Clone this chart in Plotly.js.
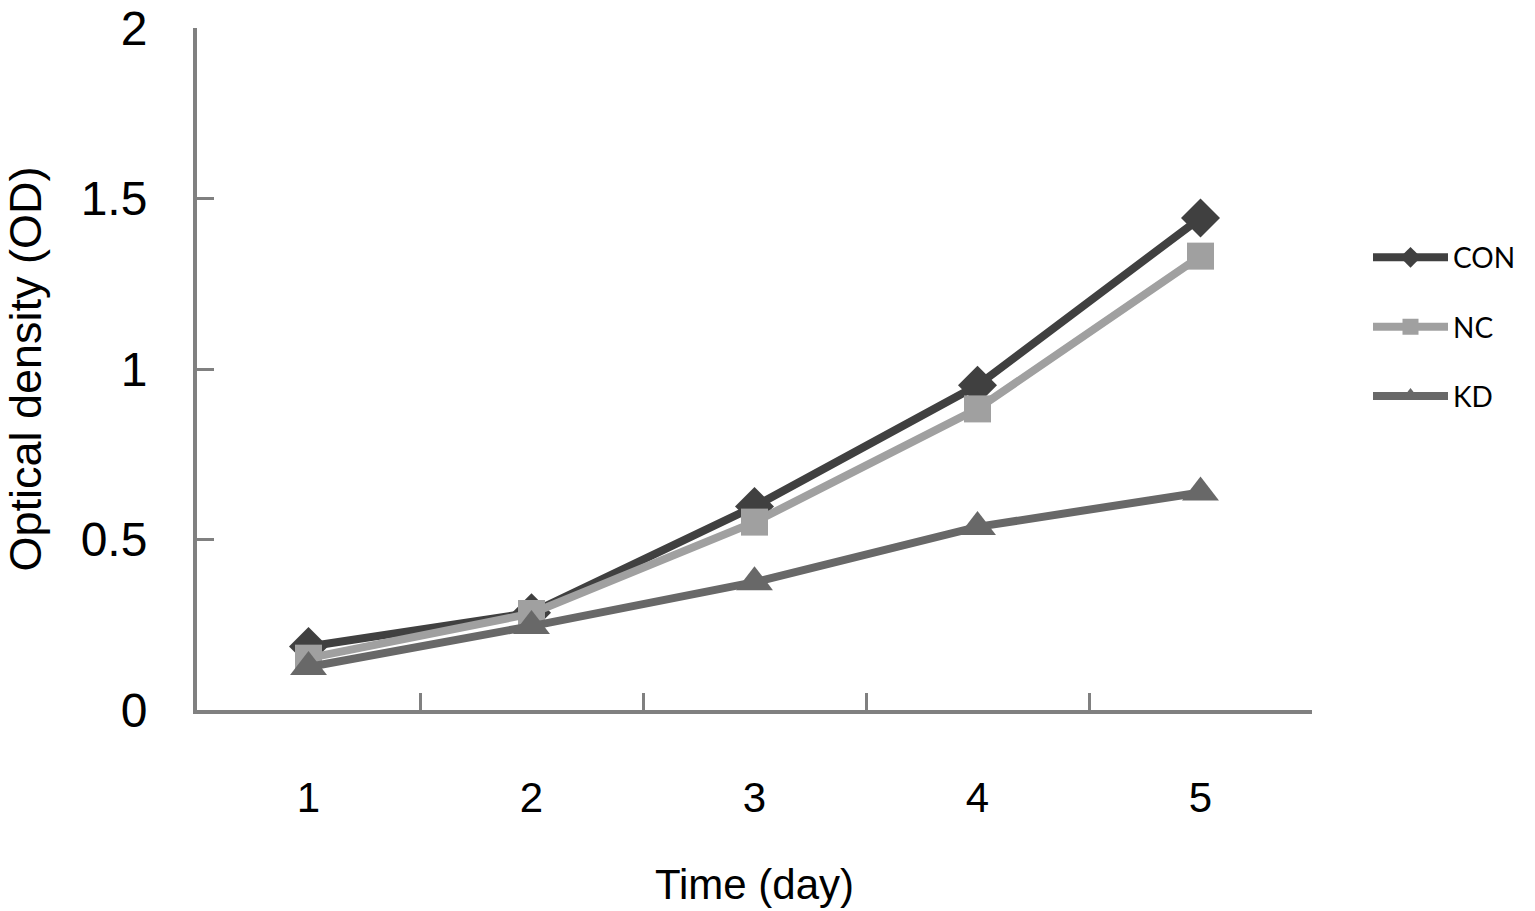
<!DOCTYPE html>
<html>
<head>
<meta charset="utf-8">
<script src="https://cdn.plot.ly/plotly-3.0.1.min.js"></script>
<style>html,body{margin:0;padding:0;background:#fff;}#chart{width:1535px;height:911px;}</style>
</head>
<body>
<div id="chart"></div>
<script>
const days = ["1", "2", "3", "4", "5"];
const seriesNames = ["CON", "NC", "KD"];
const conValues = [0.186, 0.285, 0.597, 0.952, 1.443];
const ncValues = [0.152, 0.283, 0.551, 0.883, 1.331];
const kdValues = [0.126, 0.246, 0.375, 0.537, 0.638];
const yTickValues = [0, 0.5, 1, 1.5, 2];
const yTickLabels = ["0", "0.5", "1", "1.5", "2"];

const styles = [
  {color: "#404040", symbol: "diamond", size: 30},
  {color: "#a0a0a0", symbol: "square", size: 27},
  {color: "#686868", symbol: "triangle-up", size: 32}
];
const values = [conValues, ncValues, kdValues];

const traces = seriesNames.map((name, i) => ({
  type: "scatter",
  mode: "lines+markers",
  name: name,
  legendgroup: name,
  x: days,
  y: values[i],
  line: {color: styles[i].color, width: 8},
  marker: {color: styles[i].color, symbol: styles[i].symbol, size: styles[i].size, line: {width: 0}}
}));

const layout = {
  width: 1535,
  height: 911,
  margin: {l: 197, r: 223, t: 28, b: 201},
  paper_bgcolor: "#ffffff",
  plot_bgcolor: "#ffffff",
  font: {family: "Liberation Sans, Arial, sans-serif", color: "#000"},
  showlegend: true,
  legend: {
    x: (1368 - 197) / 1115, xref: "paper",
    y: 0.7, yanchor: "top",
    xanchor: "left",
    font: {family: "Lato, Open Sans, sans-serif", size: 28, color: "#000"},
    itemwidth: 75,
    traceorder: "grouped",
    tracegroupgap: 30,
    borderwidth: 0,
    bgcolor: "rgba(0,0,0,0)"
  },
  xaxis: {
    type: "category",
    range: [-0.5, 4.5],
    tickson: "boundaries",
    ticks: "inside",
    ticklen: 17,
    tickwidth: 3,
    tickcolor: "#808080",
    showline: true,
    linecolor: "#808080",
    linewidth: 4,
    showgrid: false,
    zeroline: false,
    ticklabelstandoff: 48,
    tickfont: {family: "Liberation Sans Narrow, Arial Narrow, Liberation Sans, sans-serif", size: 42, color: "#000"},
    title: {text: "Time (day)", font: {family: "Liberation Sans Narrow, Arial Narrow, Liberation Sans, sans-serif", size: 42, color: "#000"}, standoff: 50},
    fixedrange: true
  },
  yaxis: {
    range: [0, 2],
    tickvals: yTickValues,
    ticktext: yTickLabels,
    ticks: "inside",
    ticklen: 17,
    tickwidth: 3,
    tickcolor: "#808080",
    showline: true,
    linecolor: "#808080",
    linewidth: 4,
    showgrid: false,
    zeroline: false,
    ticklabelstandoff: 36,
    tickfont: {size: 48, color: "#000"},
    title: {text: "Optical density (OD)", font: {size: 45, color: "#000"}, standoff: 28},
    fixedrange: true
  }
};

Plotly.newPlot("chart", traces, layout, {displayModeBar: false, staticPlot: true});
</script>
</body>
</html>
